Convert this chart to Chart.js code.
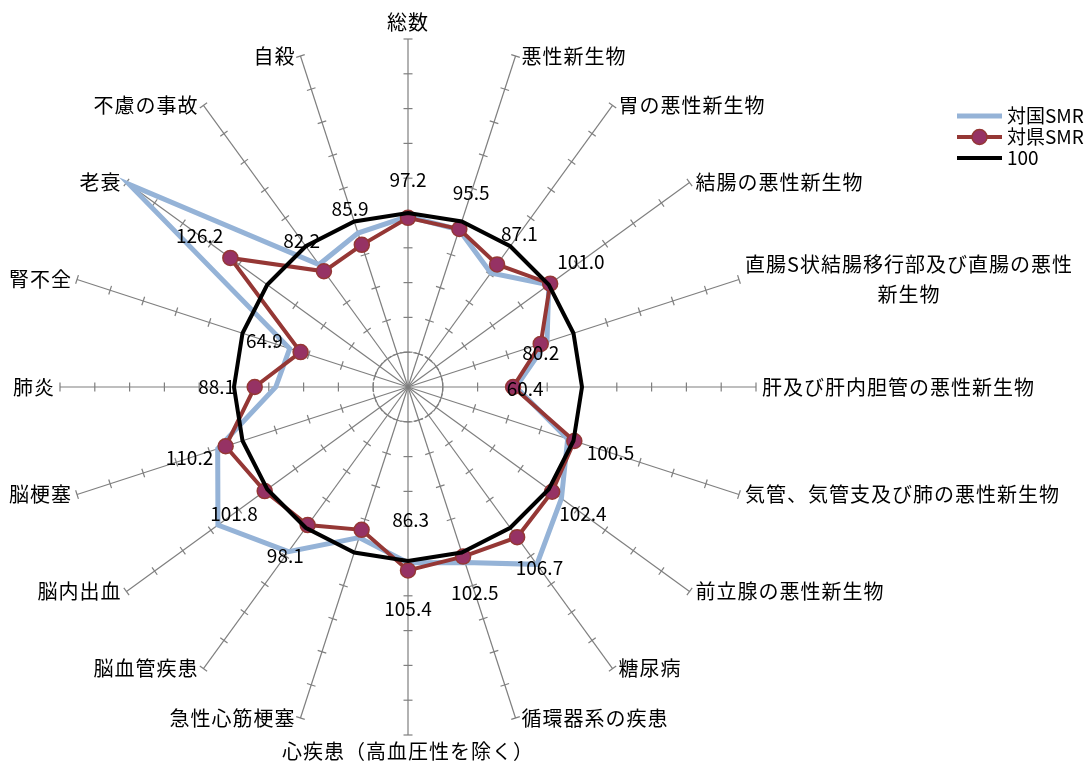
<!DOCTYPE html>
<html>
<head>
<meta charset="utf-8">
<script src="https://cdn.jsdelivr.net/npm/chart.js@4/dist/chart.umd.min.js"></script>
<style>
  body { margin: 0; background: #fff; }
  canvas { display: block; }
</style>
</head>
<body>
<canvas id="smrChart" width="1091" height="765"></canvas>
<script>
// categories (clockwise from top)
var categories = ["総数", "悪性新生物", "胃の悪性新生物", "結腸の悪性新生物",
    ["直腸S状結腸移行部及び直腸の悪性", "新生物"], "肝及び肝内胆管の悪性新生物",
    "気管、気管支及び肺の悪性新生物", "前立腺の悪性新生物", "糖尿病", "循環器系の疾患",
    "心疾患（高血圧性を除く）", "急性心筋梗塞", "脳血管疾患", "脳内出血", "脳梗塞",
    "肺炎", "腎不全", "老衰", "不慮の事故", "自殺"];
// SMR vs whole country
var smrKuni = [98, 95, 81, 100, 84, 62, 96.5, 109, 126, 106, 101, 91, 117, 135, 115, 76, 71.5, 198, 87, 93];
// SMR vs prefecture (data labels)
var smrKen = [97.2, 95.5, 87.1, 101.0, 80.2, 60.4, 100.5, 102.4, 106.7, 102.5, 105.4, 86.3, 98.1, 101.8, 110.2, 88.1, 64.9, 126.2, 82.2, 85.9];
// reference line
var base100 = [100, 100, 100, 100, 100, 100, 100, 100, 100, 100, 100, 100, 100, 100, 100, 100, 100, 100, 100, 100];
var seriesNames = ["対国SMR", "対県SMR", "100"];
var axisMin = 0, axisMax = 200, axisStep = 20;

var JP = '"Noto Sans CJK JP", "Noto Sans", sans-serif';
var gridGray = '#7f7f7f';
// labels that were moved by hand in the original (px from the point)
var labelNudge = {4: [0, 9], 5: [12, 2], 11: [49, -10]};

//----------- axis tick marks are under the data
var axisTicksPlugin = {
    id: 'axisTicks',
    beforeDatasetsDraw: function(chart) {
        var sc = chart.scales.r, ctx = chart.ctx;
        ctx.save();
        ctx.strokeStyle = gridGray;
        ctx.lineWidth = 1.2;
        for (var i = 0; i < categories.length; i++) {
            var a = sc.getIndexAngle(i) - Math.PI / 2;
            var px = -Math.sin(a), py = Math.cos(a);
            sc.ticks.forEach(function(t) {
                if (t.value <= axisMin) return;
                var p = sc.getPointPositionForValue(i, t.value);
                ctx.beginPath();
                ctx.moveTo(p.x - px * 4.5, p.y - py * 4.5);
                ctx.lineTo(p.x + px * 4.5, p.y + py * 4.5);
                ctx.stroke();
            });
        }
        ctx.restore();
    }
};

//----------- category labels, data labels, legend
var textPlugin = {
    id: 'texts',
    afterDatasetsDraw: function(chart) {
        var sc = chart.scales.r, ctx = chart.ctx;
        ctx.save();
        ctx.fillStyle = '#000';
        // category labels at the axis ends
        ctx.font = '20px ' + JP;
        try { ctx.letterSpacing = '1px'; } catch (e) {}
        ctx.textBaseline = 'middle';
        categories.forEach(function(lab, i) {
            var lines = Array.isArray(lab) ? lab : [lab];
            var deg = Math.round(sc.getIndexAngle(i) * 180 / Math.PI) % 360;
            var p = sc.getPointPosition(i, sc.drawingArea);
            var lh = 30;
            var w = 0;
            lines.forEach(function(l) { w = Math.max(w, ctx.measureText(l).width); });
            var cx, cy = p.y - (lines.length - 1) * lh / 2;
            if (deg === 0) { cx = p.x; cy = p.y - 17; }
            else if (deg === 180) { cx = p.x; cy = p.y + 16; }
            else if (deg < 180) { cx = p.x + 6 + w / 2; }
            else { cx = p.x - 5 - w / 2; }
            ctx.textAlign = 'center';
            lines.forEach(function(l, k) {
                ctx.fillText(l, cx, cy + k * lh);
            });
        });
        // data labels of 対県SMR
        try { ctx.letterSpacing = '0px'; } catch (e) {}
        ctx.font = '19px ' + JP;
        ctx.textAlign = 'center';
        var meta = chart.getDatasetMeta(1);
        meta.data.forEach(function(pt, i) {
            var dx, dy;
            if (labelNudge[i]) {
                dx = labelNudge[i][0]; dy = labelNudge[i][1];
            } else {
                var a = sc.getIndexAngle(i) - Math.PI / 2;
                dx = Math.cos(a) * 38; dy = Math.sin(a) * 38;
            }
            ctx.fillText(smrKen[i].toFixed(1), pt.x + dx, pt.y + dy);
        });
        ctx.restore();
    },
    afterDraw: function(chart) {
        var ctx = chart.ctx;
        var ds = chart.data.datasets;
        var x0 = 957, x1 = 1002, y = 116;
        ctx.save();
        ctx.font = '19px ' + JP;
        ctx.textBaseline = 'middle';
        ctx.textAlign = 'left';
        ds.forEach(function(d, i) {
            var yy = y + i * 21;
            ctx.strokeStyle = d.borderColor;
            ctx.lineWidth = d.borderWidth;
            ctx.beginPath();
            ctx.moveTo(x0, yy);
            ctx.lineTo(x1, yy);
            ctx.stroke();
            if (d.pointRadius > 0) {
                ctx.beginPath();
                ctx.arc((x0 + x1) / 2, yy, d.pointRadius, 0, Math.PI * 2);
                ctx.fillStyle = d.pointBackgroundColor;
                ctx.fill();
                ctx.lineWidth = d.pointBorderWidth;
                ctx.strokeStyle = d.pointBorderColor;
                ctx.stroke();
            }
            ctx.fillStyle = '#000';
            ctx.fillText(d.label, x1 + 5, yy);
        });
        ctx.restore();
    }
};

function initChart() {
    var ctxSmr = document.getElementById("smrChart");
    var chartSmr = new Chart(ctxSmr, {
        type: 'radar',
        data: {
            labels: categories,
            datasets: [
                {
                    label: seriesNames[0],
                    data: smrKuni,
                    fill: false,
                    borderColor: '#95B3D7',
                    borderWidth: 5,
                    borderJoinStyle: 'miter',
                    pointRadius: 0,
                    order: 3
                },
                {
                    label: seriesNames[1],
                    data: smrKen,
                    fill: false,
                    borderColor: '#953735',
                    borderWidth: 4,
                    pointRadius: 7.5,
                    pointBackgroundColor: '#963264',
                    pointBorderColor: '#953735',
                    pointBorderWidth: 1.5,
                    order: 2
                },
                {
                    label: seriesNames[2],
                    data: base100,
                    fill: false,
                    borderColor: '#000000',
                    borderWidth: 4,
                    pointRadius: 0,
                    order: 1
                }
            ]
        },
        options: {
            responsive: false,
            animation: false,
            layout: { padding: { top: 39, bottom: 30, left: 0, right: 275 } },
            plugins: {
                legend: { display: false },
                tooltip: { enabled: false }
            },
            scales: {
                r: {
                    min: axisMin,
                    max: axisMax,
                    ticks: { display: false, stepSize: axisStep },
                    pointLabels: { display: false },
                    angleLines: { color: gridGray, lineWidth: 1.2 },
                    grid: {
                        circular: true,
                        color: gridGray,
                        lineWidth: function(c) { return c.tick && c.tick.value === axisStep ? 1.2 : 0; }
                    },
                    border: { dash: [10, 3] }
                }
            }
        },
        plugins: [axisTicksPlugin, textPlugin]
    });
}
initChart();
</script>
</body>
</html>
